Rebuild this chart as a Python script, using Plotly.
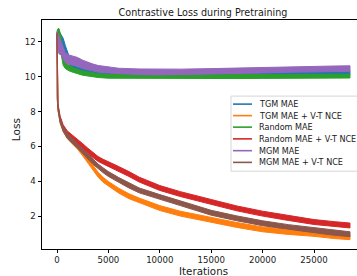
import plotly.graph_objects as go

# ---------------- data ----------------
series_names = ["TGM MAE", "TGM MAE + V-T NCE", "Random MAE",
                "Random MAE + V-T NCE", "MGM MAE", "MGM MAE + V-T NCE"]
colors = ["#1f77b4", "#ff7f0e", "#2ca02c", "#d62728", "#9467bd", "#8c564b"]

# flat (MAE-only) curves
it_flat = [0, 100, 200, 400, 600, 800, 1000, 1300, 1600, 2000, 2500, 3000, 3500,
           4000, 5000, 6000, 8000, 10000, 12000, 15000, 17500, 20000, 22500,
           25000, 27000, 28500]
tgm_mae = [12.5, 12.4, 12.3, 12.1, 11.9, 11.5, 11.2, 10.75, 10.5, 10.4, 10.35,
           10.3, 10.28, 10.25, 10.2, 10.18, 10.15, 10.15, 10.15, 10.16, 10.17,
           10.18, 10.2, 10.21, 10.22, 10.22]
tgm_mae_spread = [0.1, 0.3, 0.3, 0.3, 0.3, 0.3, 0.25, 0.2, 0.18, 0.15, 0.15,
                  0.14, 0.14, 0.13, 0.12, 0.12, 0.12, 0.12, 0.12, 0.12, 0.12,
                  0.12, 0.12, 0.12, 0.12, 0.12]
random_mae = [12.5, 12.35, 12.2, 11.8, 11.0, 10.65, 10.55, 10.45, 10.37, 10.3,
              10.2, 10.15, 10.1, 10.06, 10.02, 10.0, 9.99, 9.99, 10.0, 10.0,
              10.0, 10.01, 10.01, 10.02, 10.02, 10.03]
random_mae_spread = [0.1, 0.4, 0.55, 0.5, 0.35, 0.18, 0.16, 0.15, 0.14, 0.13,
                     0.12, 0.12, 0.11, 0.11, 0.11, 0.11, 0.11, 0.11, 0.11,
                     0.11, 0.11, 0.11, 0.11, 0.11, 0.11, 0.11]
mgm_mae = [12.5, 12.0, 11.8, 11.6, 11.3, 11.1, 11.0, 10.95, 10.9, 10.85, 10.7,
           10.6, 10.52, 10.45, 10.38, 10.32, 10.28, 10.26, 10.27, 10.3, 10.34,
           10.37, 10.41, 10.44, 10.45, 10.46]
mgm_mae_spread = [0.1, 0.45, 0.5, 0.35, 0.3, 0.28, 0.27, 0.26, 0.25, 0.25, 0.24,
                  0.22, 0.2, 0.19, 0.17, 0.16, 0.16, 0.16, 0.16, 0.16, 0.16,
                  0.16, 0.16, 0.16, 0.16, 0.16]

# descending (+ V-T NCE) curves
it_desc = [0, 30, 100, 300, 600, 1000, 1500, 2000, 2500, 3000, 3500, 4000, 4500,
           5000, 6000, 7000, 8000, 10000, 12000, 15000, 17500, 20000, 22500,
           25000, 27000, 28500]
random_vt = [12.5, 9.0, 8.3, 7.6, 7.1, 6.75, 6.52, 6.28, 6.02, 5.76, 5.5, 5.28,
             5.12, 4.97, 4.71, 4.42, 4.1, 3.62, 3.27, 2.82, 2.45, 2.15, 1.9,
             1.67, 1.55, 1.47]
mgm_vt = [12.5, 8.8, 8.2, 7.5, 7.0, 6.6, 6.3, 6.05, 5.75, 5.42, 5.12, 4.85, 4.63,
          4.42, 4.08, 3.76, 3.48, 3.1, 2.75, 2.2, 1.88, 1.6, 1.38, 1.2, 1.05,
          0.97]
tgm_vt = [12.5, 8.8, 8.2, 7.5, 7.0, 6.6, 6.28, 5.98, 5.6, 5.2, 4.8, 4.38, 4.08,
          3.85, 3.47, 3.15, 2.9, 2.47, 2.15, 1.78, 1.5, 1.25, 1.1, 0.99, 0.86,
          0.8]
desc_spread = [0.05, 0.14, 0.14, 0.14, 0.14, 0.14, 0.14, 0.14, 0.14, 0.14,
               0.14, 0.14, 0.14, 0.14, 0.14, 0.14, 0.14, 0.14, 0.14, 0.14,
               0.14, 0.14, 0.14, 0.14, 0.14, 0.14]

x_ticks = [0, 5000, 10000, 15000, 20000, 25000]
y_ticks = [2, 4, 6, 8, 10, 12]

# ---------------- figure ----------------
W, H = 357, 276
L, R, T, B = 42, 0, 20, 27.3
plot_w = W - L - R
plot_h = H - T - B

fig = go.Figure()


def band(x, y, s, color):
    upper = [a + b for a, b in zip(y, s)]
    lower = [a - b for a, b in zip(y, s)]
    fig.add_trace(go.Scatter(
        x=list(x) + list(x)[::-1], y=upper + lower[::-1],
        fill="toself", fillcolor=color, mode="lines",
        line=dict(color=color, width=1), showlegend=False, hoverinfo="skip"))


# matplotlib drawing order
band(it_flat, tgm_mae, tgm_mae_spread, colors[0])
band(it_desc, tgm_vt, desc_spread, colors[1])
band(it_flat, random_mae, random_mae_spread, colors[2])
band(it_desc, random_vt, desc_spread, colors[3])
band(it_flat, mgm_mae, mgm_mae_spread, colors[4])
band(it_desc, mgm_vt, desc_spread, colors[5])


def px_to_paper(px, py):
    return (px - L) / plot_w, (H - B - py) / plot_h


# legend (manual, matplotlib style)
x0, y0 = px_to_paper(231, 96)
x1, y1 = px_to_paper(365, 171)
fig.add_shape(type="rect", xref="paper", yref="paper", x0=x0, y0=y1, x1=x1, y1=y0,
              line=dict(color="#d6d6d6", width=1), fillcolor="rgba(255,255,255,0.85)",
              layer="above")
row_y = [104, 115.5, 127, 138.7, 150.5, 162.2]
for name, col, ry in zip(series_names, colors, row_y):
    lx0, ly = px_to_paper(233, ry)
    lx1, _ = px_to_paper(252, ry)
    fig.add_shape(type="line", xref="paper", yref="paper", x0=lx0, x1=lx1, y0=ly, y1=ly,
                  line=dict(color=col, width=1.6), layer="above")
    tx, ty = px_to_paper(257, ry)
    fig.add_annotation(text=name, xref="paper", yref="paper", x=tx, y=ty,
                       xanchor="left", yanchor="middle", showarrow=False,
                       font=dict(family="DejaVu Sans", size=8.1, color="#1a1a1a"))

# axis labels
fig.add_annotation(text="Iterations", xref="paper", yref="paper",
                   x=(203 - L) / plot_w, y=(H - B - 270.6) / plot_h,
                   xanchor="center", yanchor="middle", showarrow=False,
                   font=dict(family="DejaVu Sans", size=10.3, color="#1a1a1a"))
fig.add_annotation(text="Loss", xref="paper", yref="paper",
                   x=(16 - L) / plot_w, y=(H - B - 130) / plot_h,
                   xanchor="center", yanchor="middle", showarrow=False, textangle=-90,
                   font=dict(family="DejaVu Sans", size=10.5, color="#1a1a1a"))

fig.update_layout(
    width=W, height=H,
    margin=dict(l=L, r=R, t=T, b=B, pad=0, autoexpand=False),
    paper_bgcolor="white", plot_bgcolor="white",
    showlegend=False,
    title=dict(text="Contrastive Loss during Pretraining", xref="paper",
               x=(203 - L) / plot_w, xanchor="center",
               y=1 - 12.3 / H, yanchor="middle", automargin=False,
               font=dict(family="DejaVu Sans", size=9.6, color="#1a1a1a")),
    font=dict(family="DejaVu Sans", size=8.6, color="#1a1a1a"),
)
fig.update_xaxes(range=[-1459, 29183], tickvals=x_ticks,
                 ticktext=[str(v) for v in x_ticks], automargin=False,
                 showgrid=False, zeroline=False, showline=True, linecolor="black",
                 linewidth=1, mirror=True, ticks="outside", ticklen=3,
                 tickcolor="black", tickwidth=0.8)
fig.update_yaxes(range=[0.124, 13.245], tickvals=y_ticks,
                 ticktext=[str(v) for v in y_ticks], automargin=False,
                 showgrid=False, zeroline=False, showline=True, linecolor="black",
                 linewidth=1, mirror=False, ticks="outside", ticklen=3.5,
                 tickcolor="black", tickwidth=0.8)

fig.write_html(
    "out.html",
    config={"displayModeBar": False},
    post_script="document.body.style.margin='0';document.body.style.overflow='hidden';",
)
